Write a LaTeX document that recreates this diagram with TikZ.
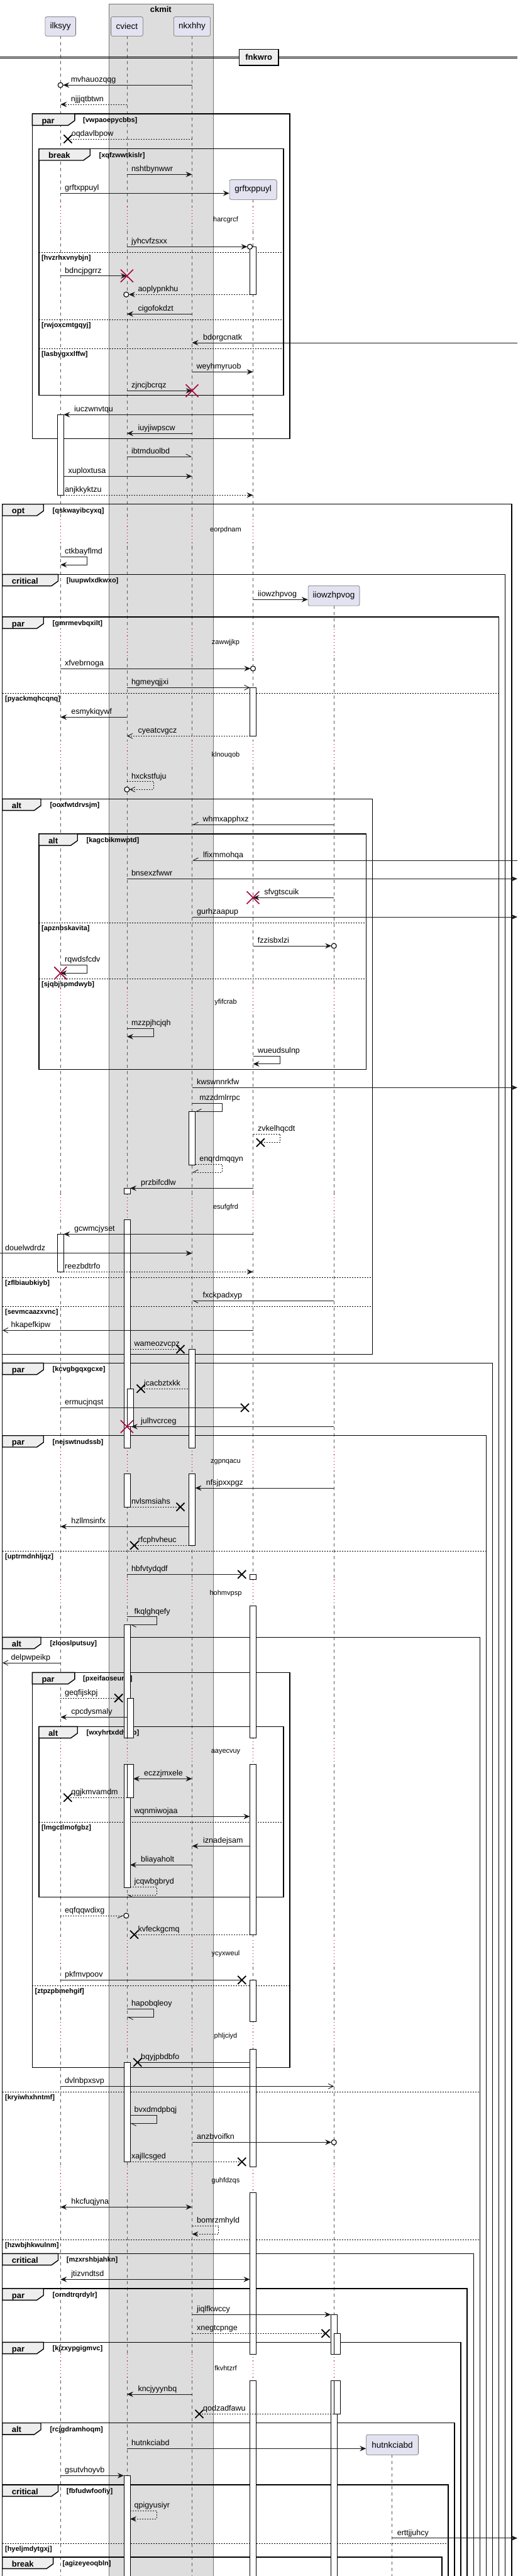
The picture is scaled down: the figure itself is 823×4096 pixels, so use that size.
\documentclass[tikz,border=0pt]{standalone}
\usepackage{fontspec}
\setmainfont{Liberation Sans}
\usetikzlibrary{arrows.meta}
\definecolor{partfill}{HTML}{E2E2F0}
\definecolor{boxfill}{HTML}{DDDDDD}
\definecolor{tabfill}{HTML}{EEEEEE}
\definecolor{crim}{HTML}{A80036}
\def\xI{96.2}\def\xC{201.9}\def\xN{305.5}\def\xG{402.5}\def\xW{531.2}\def\xH{623.7}
\def\delays{328.3/367,820.7/869,1000/1046,1177.7/1219.3,1571.3/1613,1898.3/1939.3,2302/2343.7,2511.3/2553.3,2763.7/2805.3,3085/3127,3214.7/3258,3445/3486.7,3743/3785.3}
\tikzset{
  lifel/.style={draw=black!65, line width=0.6pt, dash pattern=on 5pt off 5pt},
  delayl/.style={draw=crim, line width=0.8pt, dash pattern=on 1.2pt off 4pt},
  part/.style={draw=black!60, line width=0.6pt, fill=partfill, rounded corners=2.5pt, font=\fontsize{13.5}{15}\selectfont, inner sep=0},
  ml/.style={line width=0.9pt, draw=black!90},
  dsh/.style={dash pattern=on 2pt off 2pt},
  hn/.style={-{Stealth[length=10pt,width=8.5pt,inset=3.5pt]}},
  hb/.style={{Stealth[length=10pt,width=8.5pt,inset=3.5pt]}-{Stealth[length=10pt,width=8.5pt,inset=3.5pt]}},
  ho/.style={-{Straight Barb[length=8pt,width=8pt,line width=0.9pt]}},
  hL/.style={-{Straight Barb[length=8pt,width=8pt,left,line width=0.9pt]}},
  hR/.style={-{Straight Barb[length=8pt,width=8pt,right,line width=0.9pt]}},
  lbl/.style={anchor=base west, inner sep=0, font=\fontsize{12.5}{14}\selectfont},
  condl/.style={anchor=base west, inner sep=0, font=\bfseries\fontsize{11}{13}\selectfont},
  tablbl/.style={anchor=base west, inner sep=0, font=\bfseries\fontsize{13}{15}\selectfont},
  delaytxt/.style={anchor=center, inner sep=0, font=\fontsize{11}{13}\selectfont},
  framel/.style={draw=black, line width=1.4pt},
  tabs/.style={draw=black, line width=1.4pt, fill=tabfill},
  sepl/.style={draw=black, line width=0.8pt, dash pattern=on 2pt off 2pt},
  actb/.style={draw=black, line width=0.8pt, fill=white},
  bx/.style={draw=black, line width=1.8pt},
  rx/.style={draw=crim, line width=1.6pt},
  circ/.style={draw=black, line width=1.1pt, fill=white},
}
\newcommand\lifeline[2]{%
  \xdef\llprev{#2}%
  \foreach \a/\b in \delays {%
    \pgfmathtruncatemacro\llok{\a>\llprev}%
    \ifnum\llok=1
      \draw[lifel] (#1,\llprev) -- (#1,\a);
      \draw[delayl] (#1,\a) -- (#1,\b);
      \xdef\llprev{\b}%
    \fi
  }%
  \draw[lifel] (#1,\llprev) -- (#1,4110);
}
\newcommand\act[3]{\draw[actb] (#1,#2) rectangle ({#1+10},#3);}
\newcommand\frm[8]{%
  \draw[framel] (#1,#3) rectangle (#2,#4);
  \draw[tabs] (#1,#3) -- (#6,#3) -- (#6,{#3+10.7}) -- ({#6-10.6},{#3+18.3}) -- (#1,{#3+18.3}) -- cycle;
  \node[tablbl] at ({#1+15},{#3+15}) {#5};
  \node[condl] at (#8,{#3+13.5}) {#7};
}
\newcommand\sepr[4]{\draw[sepl] (#1,#3) -- (#2,#3); \node[condl] at ({#1+4.2},{#3+12}) {#4};}
\newcommand\lb[3]{\node[lbl] at (#1,{#2-4.5}) {#3};}
\newcommand\bX[2]{\draw[bx] ({#1-6.5},{#2-6.5}) -- ({#1+6.5},{#2+6.5}) ({#1-6.5},{#2+6.5}) -- ({#1+6.5},{#2-6.5});}
\newcommand\rX[2]{\draw[rx] ({#1-10},{#2-10}) -- ({#1+10},{#2+10}) ({#1-10},{#2+10}) -- ({#1+10},{#2-10});}
\newcommand\ci[2]{\draw[circ] (#1,#2) circle (4);}
\newcommand\dl[2]{\node[delaytxt] at (359,#1) {#2};}
\begin{document}
\begin{tikzpicture}[x=1pt,y=-1pt]
\useasboundingbox (0,0) rectangle (823,4096);
\clip (0,0) rectangle (823,4096);
\fill[white] (0,0) rectangle (823,4096);
% box
\draw[fill=boxfill, draw=black!55, line width=0.6pt] (172.8,6) rectangle (338.8,4110);
\node[font=\bfseries\fontsize{13}{15}\selectfont, inner sep=0] (ckmit) at (255.8,14.7) {ckmit};
% lifelines
\lifeline{\xI}{57.3}
\lifeline{\xC}{57.3}
\lifeline{\xN}{57.3}
\lifeline{\xG}{317.3}
\lifeline{\xW}{963}
\lifeline{\xH}{3903.3}
% participants
\node[part, minimum width=48.6pt, minimum height=30.6pt] (ilksyy) at (96.2,42) {ilksyy};
\node[part, minimum width=50.8pt, minimum height=30.6pt] (cviect) at (201.9,42) {cviect};
\node[part, minimum width=58.2pt, minimum height=30.6pt] (nkxhhy) at (305.5,42) {nkxhhy};
\node[part, minimum width=75.1pt, minimum height=31.6pt] (grftxppuyl) at (402.7,301.5) {grftxppuyl};
\node[part, minimum width=81.9pt, minimum height=31.7pt] (iiowzhpvog) at (531,947.2) {iiowzhpvog};
\node[part, minimum width=82.9pt, minimum height=32pt] (hutnkciabd) at (624,3887.3) {hutnkciabd};
% divider
\draw[line width=0.9pt] (0,90) -- (823,90) (0,92.7) -- (823,92.7);
\node[draw=black, line width=1.5pt, fill=tabfill, minimum width=62.4pt, minimum height=25.7pt, inner sep=0, font=\bfseries\fontsize{13}{15}\selectfont] (fnkwro) at (411.7,91.2) {fnkwro};
% delays text
\dl{349.3}{harcgrcf}\dl{842.3}{eorpdnam}\dl{1021.3}{zawwjjkp}\dl{1200.3}{klnouqob}
\dl{1593.3}{yfifcrab}\dl{1919.3}{esufgfrd}\dl{2324.7}{zgpnqacu}\dl{2533.3}{hohmvpsp}
\dl{2785.3}{aayecvuy}\dl{3106.3}{ycyxweul}\dl{3237.3}{phljciyd}\dl{3467.3}{guhfdzqs}\dl{3765.3}{fkvhtzrf}
% frames
\frm{51.3}{460.9}{181}{697.3}{par}{118.9}{[vwpaoepycbbs]}{132}
\frm{61.8}{450.8}{236.7}{628.7}{break}{143.2}{[xqfzwwtkislr]}{157.5}
\sepr{61.8}{450.8}{401.3}{[hvzrhxvnybjn]}
\sepr{61.8}{450.8}{508}{[rwjoxcmtgqyj]}
\sepr{61.8}{450.8}{554.3}{[lasbygxxlffw]}
\frm{3.7}{814}{801.7}{4120}{opt}{69.2}{[qskwayibcyxq]}{83.5}
\frm{3.7}{803.4}{913.3}{4120}{critical}{92.5}{[luupwlxdkwxo]}{105.7}
\frm{3.7}{793.3}{981}{4120}{par}{69.2}{[gmrmevbqxilt]}{83.5}
\sepr{3.7}{793.3}{1102.3}{[pyackmqhcqnq]}
\frm{3.7}{592.5}{1270.3}{2153.3}{alt}{65}{[ooxfwtdrvsjm]}{79.3}
\sepr{3.7}{592.5}{2031.3}{[zflbiaubkiyb]}
\sepr{3.7}{592.5}{2077}{[sevmcaazxvnc]}
\frm{61.8}{582.5}{1326}{1700.3}{alt}{123.2}{[kagcbikmwptd]}{137.4}
\sepr{61.8}{582.5}{1467}{[apznbskavita]}
\sepr{61.8}{582.5}{1556.3}{[sjqbjspmdwyb]}
\frm{3.7}{783.3}{2167.3}{4120}{par}{69.2}{[kcvgbgqxgcxe]}{83.5}
\frm{3.7}{773.2}{2282.7}{4120}{par}{69.2}{[nejswtnudssb]}{83.5}
\sepr{3.7}{773.2}{2466}{[uptrmdnhljqz]}
\frm{3.7}{763.2}{2603.3}{4120}{alt}{65}{[zlooslputsuy]}{79.3}
\sepr{3.7}{763.2}{3326.3}{[kryiwhxhntmf]}
\sepr{3.7}{763.2}{3561.3}{[hzwbjhkwulnm]}
\frm{51.3}{460.9}{2659.3}{3287.3}{par}{118.9}{[pxeifaoseunh]}{132}
\sepr{51.3}{460.9}{3157.3}{[ztpzpbmehgif]}
\frm{61.8}{450.8}{2745.3}{3016.3}{alt}{123.2}{[wxyhrtxddwyb]}{137.4}
\sepr{61.8}{450.8}{2897.3}{[lmgctlmofgbz]}
\frm{3.7}{753.2}{3583.3}{4120}{critical}{92.5}{[mzxrshbjahkn]}{105.7}
\frm{3.7}{743.1}{3639}{4120}{par}{69.2}{[orndtrqrdylr]}{83.5}
\frm{3.7}{733.1}{3724.3}{4120}{par}{69.2}{[kjzxypgigmvc]}{83.5}
\frm{3.7}{723}{3852.7}{4120}{alt}{65}{[rcjgdramhoqm]}{79.3}
\frm{3.7}{713}{3951}{4120}{critical}{92.5}{[fbfudwfoofiy]}{105.7}
\sepr{3.7}{713}{4044.3}{[hyeljmdytgxj]}
\frm{3.7}{703}{4066}{4120}{break}{84.6}{[agizeyeoqbln]}{99.4}
% activations
\act{91.2}{659.3}{787.3}\act{91.2}{1962.3}{2022.3}
\act{196.9}{1889.3}{1898.3}\act{196.9}{1939.3}{2302}\act{196.9}{2343.7}{2396}
\act{196.9}{2583.3}{2763.7}\act{196.9}{2805.3}{3001.3}\act{196.9}{3279.3}{3437.3}\act{196.9}{3936.3}{4110}
\act{201.9}{2208}{2268.3}\act{201.9}{2700}{2763.7}\act{201.9}{2805.3}{2858.3}
\act{300.5}{1767.3}{1852.3}\act{300.5}{2145.3}{2302}\act{300.5}{2343.7}{2457.3}
\act{397.5}{392.3}{468.3}\act{397.5}{1093.3}{1170.3}\act{397.5}{2503.3}{2511.3}\act{397.5}{2553.3}{2763.7}
\act{397.5}{2805.3}{3076}\act{397.5}{3148.3}{3214.7}\act{397.5}{3258}{3445}\act{397.5}{3486.7}{3743}\act{397.5}{3785.3}{4110}
\act{526.2}{3680.3}{3743}\act{526.2}{3785.3}{4110}
\act{531.2}{3710.3}{3743}\act{531.2}{3785.3}{3838.3}
% messages
\draw[ml,hn] (\xN,135.3) -- ({\xI+4},135.3); \ci{\xI}{135.3} \lb{112.6}{135.3}{mvhauozqqg}
\draw[ml,dsh,hn] (\xC,166) -- (\xI,166); \lb{112.6}{166}{njjjqtbtwn}
\draw[ml,dsh] (\xN,221) -- (107.8,221); \bX{107.8}{221} \lb{113.6}{221}{oqdavlbpow}
\draw[ml,hn] (\xC,277.3) -- (\xN,277.3); \lb{208.8}{277.3}{nshtbynwwr}
\draw[ml,hn] (\xI,307.3) -- (grftxppuyl.west |- 0,307.3); \lb{103}{307.3}{grftxppuyl}
\draw[ml,hn] (\xC,392.3) -- (393.5,392.3); \ci{397.5}{392.3} \lb{208.8}{392.3}{jyhcvfzsxx}
\draw[ml,hn] (\xI,438.7) -- (\xC,438.7); \rX{\xC}{438.7} \lb{103}{438.7}{bdncjpgrrz}
\draw[ml,dsh,hn] (397.5,468.3) -- (204.8,468.3); \ci{200.8}{468.3} \lb{219.3}{468.3}{aoplypnkhu}
\draw[ml,hn] (\xN,499.3) -- (\xC,499.3); \lb{219.3}{499.3}{cigofokdzt}
\draw[ml,hn] (823,545) -- (\xN,545); \lb{323}{545}{bdorgcnatk}
\draw[ml,hn] (\xN,591.3) -- (\xG,591.3); \lb{312.4}{591.3}{weyhmyruob}
\draw[ml,hn] (\xC,621.3) -- (\xN,621.3); \rX{\xN}{621.3} \lb{208.8}{621.3}{zjncjbcrqz}
\draw[ml,hn] (\xG,659.3) -- (101.2,659.3); \lb{117.9}{659.3}{iuczwnvtqu}
\draw[ml,hn] (\xN,689) -- (\xC,689); \lb{219.3}{689}{iuyjiwpscw}
\draw[ml,hL] (\xC,726) -- (\xN,726); \lb{208.8}{726}{ibtmduolbd}
\draw[ml,hn] (101.2,757.3) -- (\xN,757.3); \lb{108.4}{757.3}{xuploxtusa}
\draw[ml,dsh,hn] (101.2,787.3) -- (\xG,787.3); \lb{103}{787.3}{anjkkyktzu}
\draw[ml,hn] (\xI,885.3) -- (138.5,885.3) -- (138.5,898) -- (\xI,898); \lb{103}{885.3}{ctkbayflmd}
\draw[ml,hn] (\xG,953.3) -- (iiowzhpvog.west |- 0,953.3); \lb{410}{953.3}{iiowzhpvog}
\draw[ml,hn] (\xI,1063) -- ({\xG-4},1063); \ci{\xG}{1063} \lb{103}{1063}{xfvebrnoga}
\draw[ml,ho] (\xC,1093.3) -- (397.5,1093.3); \lb{208.8}{1093.3}{hgmeyqjjxi}
\draw[ml,hn] (\xC,1140.3) -- (\xI,1140.3); \lb{113.1}{1140.3}{esmykiqywf}
\draw[ml,dsh,ho] (397.5,1170.3) -- (\xC,1170.3); \lb{219.3}{1170.3}{cyeatcvgcz}
\draw[ml,dsh,ho] (\xC,1242.7) -- (244.2,1242.7) -- (244.2,1255.3) -- ({\xC+4},1255.3); \ci{\xC}{1255.3} \lb{208.8}{1242.7}{hxckstfuju}
\draw[ml,hR] (\xW,1311.3) -- (\xN,1311.3); \lb{322.4}{1311.3}{whmxapphxz}
\draw[ml,hR] (823,1368) -- (\xN,1368); \lb{323}{1368}{lfixmmohqa}
\draw[ml,hn] (\xC,1397.3) -- (823,1397.3); \lb{208.8}{1397.3}{bnsexzfwwr}
\draw[ml,hn] (\xW,1427.3) -- (\xG,1427.3); \rX{\xG}{1427.3} \lb{420.2}{1427.3}{sfvgtscuik}
\draw[ml,hn] (\xN,1458) -- (823,1458); \lb{312.9}{1458}{gurhzaapup}
\draw[ml,hn] (\xG,1504) -- ({\xW-4},1504); \ci{\xW}{1504} \lb{409.6}{1504}{fzzisbxlzi}
\draw[ml,hn] (\xI,1534.3) -- (138.5,1534.3) -- (138.5,1547.3) -- (\xI,1547.3); \rX{\xI}{1547.3} \lb{103}{1534.3}{rqwdsfcdv}
\draw[ml,hn] (\xC,1635.3) -- (244.2,1635.3) -- (244.2,1648.3) -- (\xC,1648.3); \lb{208.8}{1635.3}{mzzpjhcjqh}
\draw[ml,hn] (\xG,1679.3) -- (445.6,1679.3) -- (445.6,1691.7) -- (\xG,1691.7); \lb{410}{1679.3}{wueudsulnp}
\draw[ml,hn] (\xN,1729.3) -- (823,1729.3); \lb{312.9}{1729.3}{kwswnnrkfw}
\draw[ml,hR] (\xN,1754.3) -- (353,1754.3) -- (353,1767.3) -- (310.5,1767.3); \lb{317.1}{1754.3}{mzzdmlrrpc}
\draw[ml,dsh] (\xG,1803.3) -- (445.6,1803.3) -- (445.6,1816.7) -- (414.4,1816.7); \bX{414.4}{1816.7} \lb{410}{1803.3}{zvkelhqcdt}
\draw[ml,dsh,hR] (310.5,1851.3) -- (353,1851.3) -- (353,1864) -- (\xN,1864); \lb{317.1}{1851.3}{enqrdmqqyn}
\draw[ml,hn] (\xG,1889.3) -- (206.9,1889.3); \lb{224}{1889.3}{przbifcdlw}
\draw[ml,hn] (\xG,1962.3) -- (101.2,1962.3); \lb{117.9}{1962.3}{gcwmcjyset}
\draw[ml,hn] (0,1992.7) -- (\xN,1992.7); \lb{7.9}{1992.7}{douelwdrdz}
\draw[ml,dsh,hn] (101.2,2022.3) -- (\xG,2022.3); \lb{103}{2022.3}{reezbdtrfo}
\draw[ml,hL] (\xW,2068) -- (\xN,2068); \lb{322.4}{2068}{fxckpadxyp}
\draw[ml,ho] (\xG,2115.3) -- (4,2115.3); \lb{17.4}{2115.3}{hkapefkipw}
\draw[ml,dsh] (206.9,2145.3) -- (287,2145.3); \bX{287}{2145.3} \lb{213.5}{2145.3}{wameozvcpz}
\draw[ml,dsh] (299,2208) -- (224,2208); \bX{224}{2208} \lb{228.9}{2208}{jcacbztxkk}
\draw[ml] (\xI,2238.3) -- (389.5,2238.3); \bX{389.5}{2238.3} \lb{103}{2238.3}{ermucjnqst}
\draw[ml,hn] (\xW,2268.3) -- (208.8,2268.3); \rX{\xC}{2268.3} \lb{224}{2268.3}{julhvcrceg}
\draw[ml,hn] (\xW,2366) -- (310.5,2366); \lb{327.7}{2366}{nfsjpxxpgz}
\draw[ml,dsh] (206.9,2396) -- (287,2396); \bX{287}{2396} \lb{208.8}{2396}{nvlsmsiahs}
\draw[ml,hn] (300.5,2427.3) -- (\xI,2427.3); \lb{113.1}{2427.3}{hzllmsinfx}
\draw[ml,dsh] (300.5,2457.3) -- (213.5,2457.3); \bX{213.5}{2457.3} \lb{219.3}{2457.3}{rfcphvheuc}
\draw[ml] (\xC,2503.3) -- (384.8,2503.3); \bX{384.8}{2503.3} \lb{208.8}{2503.3}{hbfvtydqdf}
\draw[ml,hL] (\xC,2570.7) -- (249,2570.7) -- (249,2583.3) -- (206.9,2583.3); \lb{213.5}{2570.7}{fkqlghqefy}
\draw[ml,ho] (\xI,2644) -- (4,2644); \lb{17.4}{2644}{delpwpeikp}
\draw[ml,dsh] (\xI,2700) -- (188.7,2700); \bX{188.7}{2700} \lb{103}{2700}{geqfijskpj}
\draw[ml,hn] (\xC,2730.3) -- (\xI,2730.3); \lb{113.1}{2730.3}{cpcdysmaly}
\draw[ml,hb] (211.9,2828.3) -- (\xN,2828.3); \lb{228.9}{2828.3}{eczzjmxele}
\draw[ml,dsh] (\xC,2858.3) -- (107.8,2858.3); \bX{107.8}{2858.3} \lb{113.1}{2858.3}{qgjkmvamdm}
\draw[ml,hn] (206.9,2888.3) -- (397.5,2888.3); \lb{213.5}{2888.3}{wqnmiwojaa}
\draw[ml,hn] (397.5,2935.3) -- (\xN,2935.3); \lb{323}{2935.3}{iznadejsam}
\draw[ml,hn] (\xN,2965.3) -- (206.9,2965.3); \lb{224}{2965.3}{bliayaholt}
\draw[ml,dsh,hL] (206.9,3000.3) -- (249,3000.3) -- (249,3013) -- (\xC,3013); \lb{213.5}{3000.3}{jcqwbgbryd}
\draw[ml,dsh,hR] (\xI,3046) -- (196.8,3046); \ci{200.8}{3046} \lb{103}{3046}{eqfqqwdixg}
\draw[ml,dsh] (397.5,3076) -- (213.5,3076); \bX{213.5}{3076} \lb{219.3}{3076}{kvfeckgcmq}
\draw[ml] (\xI,3148.3) -- (384.8,3148.3); \bX{384.8}{3148.3} \lb{103}{3148.3}{pkfmvpoov}
\draw[ml,hL] (\xC,3194.3) -- (244.2,3194.3) -- (244.2,3207.3) -- (\xC,3207.3); \lb{208.8}{3194.3}{hapobqleoy}
\draw[ml] (397.5,3279.3) -- (218.8,3279.3); \bX{218.8}{3279.3} \lb{224}{3279.3}{bqyjpbdbfo}
\draw[ml,ho] (\xI,3317.3) -- (\xW,3317.3); \lb{103}{3317.3}{dvlnbpxsvp}
\draw[ml,hL] (206.9,3363.3) -- (249,3363.3) -- (249,3376.3) -- (206.9,3376.3); \lb{213.5}{3363.3}{bvxdmdpbqj}
\draw[ml,hn] (\xN,3406.3) -- ({\xW-4},3406.3); \ci{\xW}{3406.3} \lb{312.9}{3406.3}{anzbvoifkn}
\draw[ml,dsh] (206.9,3437.3) -- (384.8,3437.3); \bX{384.8}{3437.3} \lb{208.8}{3437.3}{xajllcsged}
\draw[ml,hb] (\xI,3509.3) -- (\xN,3509.3); \lb{113.1}{3509.3}{hkcfuqjyna}
\draw[ml,dsh,hn] (\xN,3539.3) -- (347.8,3539.3) -- (347.8,3552.3) -- (\xN,3552.3); \lb{312.9}{3539.3}{bomrzmhyld}
\draw[ml,hb] (\xI,3624.3) -- (397.5,3624.3); \lb{113.1}{3624.3}{jtizvndtsd}
\draw[ml,hn] (\xN,3680.3) -- (526.2,3680.3); \lb{312.9}{3680.3}{jiqlfkwccy}
\draw[ml,dsh] (\xN,3710.3) -- (518,3710.3); \bX{518}{3710.3} \lb{312.9}{3710.3}{xnegtcpnge}
\draw[ml,hn] (\xN,3807) -- (\xC,3807); \lb{219.3}{3807}{kncjyyynbq}
\draw[ml,dsh] (\xW,3838.3) -- (317,3838.3); \bX{317}{3838.3} \lb{323}{3838.3}{qodzadfawu}
\draw[ml,hn] (\xC,3893.3) -- (hutnkciabd.west |- 0,3893.3); \lb{208.8}{3893.3}{hutnkciabd}
\draw[ml,hn] (\xI,3936.3) -- (196.9,3936.3); \lb{103}{3936.3}{gsutvhoyvb}
\draw[ml,dsh,hn] (206.9,3992) -- (249,3992) -- (249,4005.3) -- (206.9,4005.3); \lb{213.5}{3992}{qpigyusiyr}
\draw[ml,hn] (\xH,4035.7) -- (823,4035.7); \lb{631.6}{4035.7}{erttjjuhcy}
\end{tikzpicture}
\end{document}
